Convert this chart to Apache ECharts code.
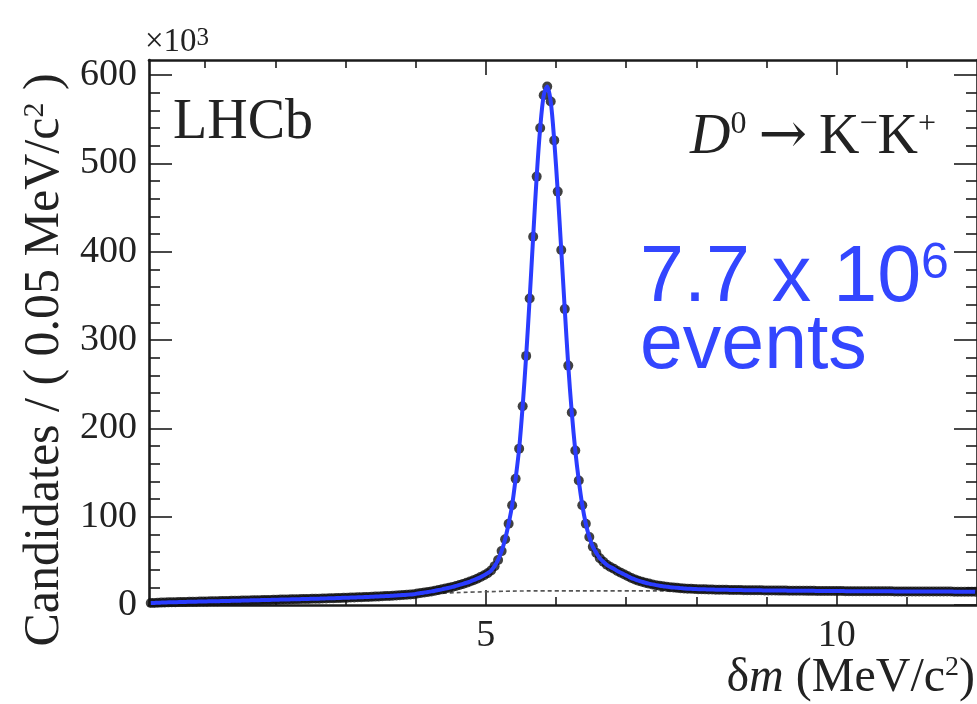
<!DOCTYPE html>
<html>
<head>
<meta charset="utf-8">
<script src="https://cdn.jsdelivr.net/npm/echarts@6/dist/echarts.min.js"></script>
<style>
  html, body { margin: 0; padding: 0; background: #ffffff; }
  #chart { width: 977px; height: 704px; }
</style>
</head>
<body>
<div id="chart"></div>
<script>
// delta-m histogram: 0.05 MeV/c^2 bins starting at 0.2 MeV/c^2, counts in units of 10^3
const binLow = 0.2;
const binWidth = 0.05;
const candidates = [
  // 0.225 .. 0.975
  2.3, 2.4, 2.6, 2.7, 2.8, 3.0, 3.1, 3.2, 3.3, 3.4, 3.5, 3.6, 3.7, 3.8, 3.9, 4.0,
  // 1.025 .. 1.975
  4.1, 4.2, 4.2, 4.3, 4.4, 4.5, 4.6, 4.7, 4.8, 4.9, 5.0, 5.1, 5.2, 5.3, 5.4, 5.5, 5.6, 5.7, 5.8, 5.9,
  // 2.025 .. 2.975
  6.0, 6.1, 6.2, 6.3, 6.4, 6.5, 6.6, 6.7, 6.8, 6.9, 7.0, 7.1, 7.2, 7.3, 7.5, 7.6, 7.7, 7.8, 8.0, 8.1,
  // 3.025 .. 3.975
  8.2, 8.4, 8.5, 8.7, 8.8, 9.0, 9.1, 9.3, 9.5, 9.7, 9.9, 10.1, 10.3, 10.5, 10.8, 11.0, 11.3, 11.6, 11.9, 12.2,
  // 4.025 .. 4.975
  13.0, 13.5, 14.1, 14.7, 15.4, 16.1, 16.9, 17.7, 18.6, 19.5, 20.5, 21.6, 22.7, 23.9, 25.2, 26.6, 28.1, 29.8, 31.6, 33.6,
  // 5.025 .. 5.975
  36, 39, 44, 51, 61, 74.5, 92, 113, 143, 177, 225, 282, 347, 417, 485, 540, 577, 587, 570, 526,
  // 6.025 .. 6.975
  468, 402, 335, 271, 218, 175, 141, 113, 92, 77, 66, 59, 53, 49, 45.5, 43, 41, 38.5, 36.5, 34.5,
  // 7.025 .. 7.975
  32.5, 30.5, 29, 27.5, 26.3, 25.2, 24.2, 23.3, 22.5, 21.8, 21.2, 20.7, 20.2, 19.8, 19.4, 19.1, 18.8, 18.5, 18.3, 18.1,
  // 8.025 .. 8.975
  17.9, 17.8, 17.7, 17.6, 17.5, 17.4, 17.3, 17.3, 17.2, 17.1, 17.0, 17.0, 16.9, 16.8, 16.8, 16.7, 16.7, 16.6, 16.6, 16.5,
  // 9.025 .. 9.975
  16.5, 16.4, 16.4, 16.3, 16.3, 16.3, 16.2, 16.2, 16.1, 16.1, 16.1, 16.0, 16.0, 16.0, 15.9, 15.9, 15.9, 15.9, 15.8, 15.8,
  // 10.025 .. 10.975
  15.8, 15.8, 15.7, 15.7, 15.7, 15.7, 15.6, 15.6, 15.6, 15.6, 15.6, 15.5, 15.5, 15.5, 15.5, 15.5, 15.4, 15.4, 15.4, 15.4,
  // 11.025 .. 11.975
  15.4, 15.4, 15.3, 15.3, 15.3, 15.3, 15.3, 15.2, 15.2, 15.2, 15.2, 15.2, 15.2, 15.1, 15.1, 15.1, 15.1, 15.1, 15.1, 15.0
];

// background component of the fit (dashed)
const backgroundX = [0.2, 1, 2, 3, 4, 5, 6, 7, 8, 9, 10, 11, 12];
const backgroundY = [1.0, 3.0, 5.5, 8.5, 12.0, 15.0, 16.0, 16.0, 15.8, 15.5, 15.3, 15.1, 14.9];

const xRange = [0.2, 12];
const yRange = [0, 617];
const xMajorTicks = [5, 10];
const xMinorTicks = [1, 2, 3, 4, 6, 7, 8, 9, 11];
const yMajorTicks = [0, 100, 200, 300, 400, 500, 600];
const yMinorTicks = [20, 40, 60, 80, 120, 140, 160, 180, 220, 240, 260, 280, 320, 340, 360, 380,
                     420, 440, 460, 480, 520, 540, 560, 580];

const points = candidates.map((v, i) => [binLow + (i + 0.5) * binWidth, v]);
const bkg = backgroundX.map((x, i) => [x, backgroundY[i]]);

const serif = '"Liberation Serif", "Times New Roman", serif';
const sans = '"Liberation Sans", Arial, sans-serif';
const frameColor = '#1b1b1b';
const fitBlue = '#2a3cff';
const textBlue = '#3346ff';

function axisDef(range, position, ticks, len, withLine, withLabels) {
  return {
    type: 'value', position: position, min: range[0], max: range[1],
    axisLine: { show: withLine, onZero: false, lineStyle: { color: frameColor, width: 2.6 } },
    axisTick: { show: true, inside: true, length: len, customValues: ticks,
                lineStyle: { color: frameColor, width: 1.6 } },
    axisLabel: withLabels
      ? { show: true, customValues: ticks, fontFamily: serif, fontSize: 38, color: '#222', margin: 12 }
      : { show: false },
    splitLine: { show: false }
  };
}

const chart = echarts.init(document.getElementById('chart'), null, { renderer: 'canvas' });
chart.setOption({
  backgroundColor: '#ffffff',
  animation: false,
  grid: { left: 149, top: 60, width: 830, height: 545, containLabel: false },
  xAxis: [
    axisDef(xRange, 'bottom', xMajorTicks, 15, true, true),
    axisDef(xRange, 'bottom', xMinorTicks, 8, false, false),
    axisDef(xRange, 'top', xMajorTicks, 15, true, false),
    axisDef(xRange, 'top', xMinorTicks, 8, false, false)
  ],
  yAxis: [
    axisDef(yRange, 'left', yMajorTicks, 23, true, true),
    axisDef(yRange, 'left', yMinorTicks, 11, false, false),
    axisDef(yRange, 'right', yMajorTicks, 23, true, false),
    axisDef(yRange, 'right', yMinorTicks, 11, false, false)
  ],
  series: [
    {
      name: 'background', type: 'line', data: bkg, smooth: true, symbol: 'none',
      lineStyle: { color: '#555', width: 1.6, type: [4, 3] }, z: 2
    },
    {
      name: 'data', type: 'scatter', data: points, symbol: 'circle', symbolSize: 10,
      itemStyle: { color: '#111' }, z: 3
    },
    {
      name: 'fit', type: 'line', data: points, smooth: 0.3, symbol: 'none',
      lineStyle: { color: fitBlue, width: 4 }, z: 4
    }
  ],
  graphic: [
    {
      type: 'text', x: 145, y: 42,
      style: {
        text: '×10{sup|3}', fontFamily: serif, fontSize: 33, fill: '#222',
        verticalAlign: 'middle',
        rich: { sup: { fontFamily: serif, fontSize: 25, verticalAlign: 'top', fill: '#222' } }
      }
    },
    {
      type: 'text', x: 45, y: 360, rotation: Math.PI / 2,
      style: {
        text: 'Candidates / ( 0.05 MeV/c{sup|2} )', fontFamily: serif, fontSize: 50, fill: '#222',
        align: 'center', verticalAlign: 'middle',
        rich: { sup: { fontFamily: serif, fontSize: 30, verticalAlign: 'top', fill: '#222' } }
      }
    },
    {
      type: 'text', x: 975, y: 678,
      style: {
        text: 'δ{it|m} (MeV/c{sup|2})', fontFamily: serif, fontSize: 48, fill: '#222',
        align: 'right', verticalAlign: 'middle',
        rich: {
          it: { fontFamily: serif, fontSize: 48, fontStyle: 'italic', fill: '#222' },
          sup: { fontFamily: serif, fontSize: 28, verticalAlign: 'top', fill: '#222' }
        }
      }
    },
    {
      type: 'text', x: 173, y: 123,
      style: { text: 'LHCb', fontFamily: serif, fontSize: 56, fill: '#222', verticalAlign: 'middle' }
    },
    {
      type: 'text', x: 690, y: 138,
      style: {
        text: '{it|D}{sup|0}{arr|→}K{sup|−}K{sup|+}', fontFamily: serif, fontSize: 56, fill: '#222',
        verticalAlign: 'middle',
        rich: {
          it: { fontFamily: serif, fontSize: 56, fontStyle: 'italic', fill: '#222' },
          arr: { fontFamily: '"DejaVu Serif", serif', fontSize: 58, fill: '#222', padding: [0, 12, 0, 12] },
          sup: { fontFamily: serif, fontSize: 32, verticalAlign: 'top', fill: '#222' }
        }
      }
    },
    {
      type: 'text', x: 640, y: 279,
      style: {
        text: '7.7 x 10{sup|6}', fontFamily: sans, fontSize: 79, fill: textBlue,
        verticalAlign: 'middle',
        rich: { sup: { fontFamily: sans, fontSize: 50, verticalAlign: 'top', fill: textBlue } }
      }
    },
    {
      type: 'text', x: 640, y: 347,
      style: { text: 'events', fontFamily: sans, fontSize: 77, fill: textBlue, verticalAlign: 'middle' }
    }
  ]
});
</script>
</body>
</html>
